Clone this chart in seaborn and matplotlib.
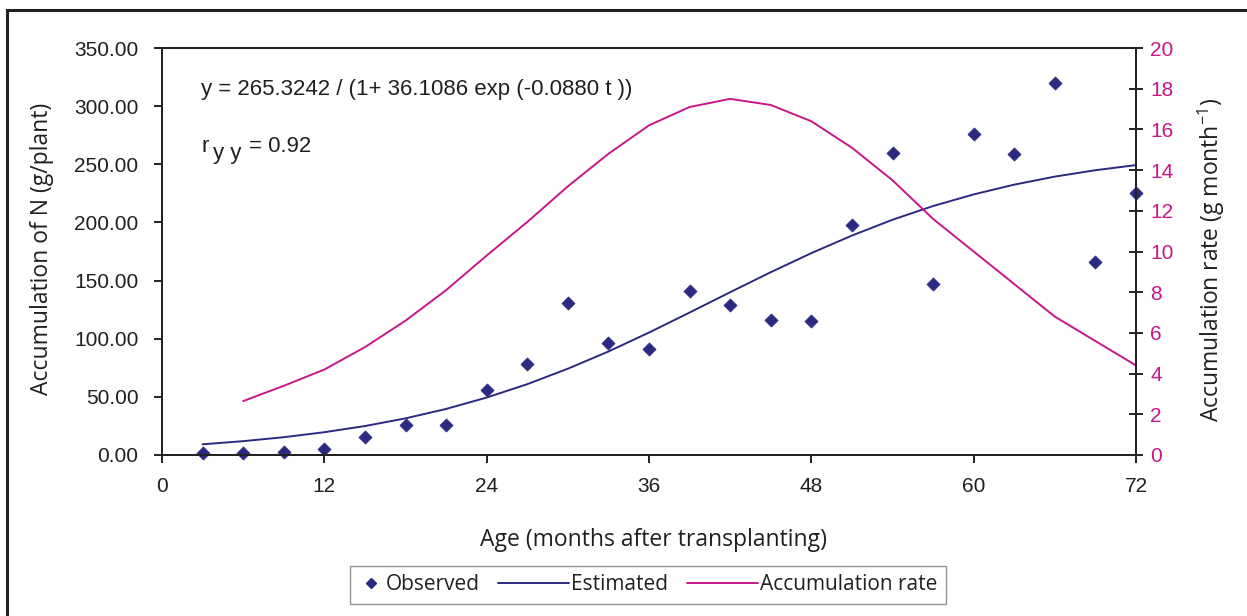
import matplotlib
matplotlib.use("Agg")
import matplotlib.pyplot as plt
import seaborn as sns
import pandas as pd
from matplotlib.lines import Line2D
from matplotlib.patches import Rectangle
from matplotlib.legend_handler import HandlerLine2D

# ---- data ----
months = [3, 6, 9, 12, 15, 18, 21, 24, 27, 30, 33, 36, 39, 42, 45, 48,
          51, 54, 57, 60, 63, 66, 69, 72]
observed = [1.5, 1.5, 3, 5, 15.5, 26, 26, 56, 78, 131, 96, 91, 141, 129,
            116, 115, 198, 260, 147, 276, 259, 320, 166, 225]
estimated = [9.2, 11.9, 15.3, 19.6, 24.9, 31.5, 39.6, 49.4, 60.9, 74.2,
             89.0, 105.3, 122.5, 140.0, 157.2, 173.6, 188.7, 202.3, 214.1,
             224.1, 232.5, 239.4, 244.9, 249.3]
rate_months = [6, 9, 12, 15, 18, 21, 24, 27, 30, 33, 36, 39, 42, 45, 48,
               51, 54, 57, 60, 63, 66, 69, 72]
rate = [2.65, 3.4, 4.2, 5.3, 6.6, 8.1, 9.8, 11.45, 13.2, 14.8, 16.2, 17.1,
        17.5, 17.2, 16.4, 15.1, 13.5, 11.6, 10.0, 8.4, 6.8, 5.6, 4.4]
x_ticks = [0, 12, 24, 36, 48, 60, 72]
left_ticks = [0, 50, 100, 150, 200, 250, 300, 350]
right_ticks = [0, 2, 4, 6, 8, 10, 12, 14, 16, 18, 20]

df_obs = pd.DataFrame({"t": months, "y": observed})
df_est = pd.DataFrame({"t": months, "y": estimated})
df_rate = pd.DataFrame({"t": rate_months, "r": rate})

NAVY = "#2B2A80"
PINK = "#C8168A"
TXT = "#231F20"

sns.set_theme(style="white")
plt.rcParams["font.family"] = ["Liberation Sans", "DejaVu Sans"]
plt.rcParams["text.color"] = TXT
plt.rcParams["axes.labelcolor"] = TXT
plt.rcParams["xtick.color"] = TXT
plt.rcParams["ytick.color"] = TXT
plt.rcParams["mathtext.fontset"] = "custom"
plt.rcParams["mathtext.rm"] = "Open Sans"
plt.rcParams["mathtext.it"] = "Open Sans"
plt.rcParams["mathtext.default"] = "regular"

W, H = 1247, 616
fig = plt.figure(figsize=(W / 100, H / 100), dpi=100)
ax = fig.add_axes([162 / W, 1 - 455 / H, (1136 - 162) / W, (455 - 48) / H])
ax2 = ax.twinx()

sns.lineplot(data=df_est, x="t", y="y", ax=ax, color=NAVY, lw=1.4)
sns.scatterplot(data=df_obs, x="t", y="y", ax=ax, color=NAVY, marker="D",
                s=45, edgecolor=NAVY, linewidth=0.5, clip_on=False, zorder=5)
sns.lineplot(data=df_rate, x="t", y="r", ax=ax2, color=PINK, lw=1.4)

ax.set_xlim(0, 72)
ax.set_ylim(0, 350)
ax2.set_ylim(0, 20)
ax.set_xticks(x_ticks)
ax.set_yticks(left_ticks)
ax.set_yticklabels([f"{v:.2f}" for v in left_ticks])
ax2.set_yticks(right_ticks)
ax2.set_yticklabels([str(v) for v in right_ticks])

for a in (ax, ax2):
    for s in a.spines.values():
        s.set_color("#222222")
        s.set_linewidth(1.4)
        s.set_visible(True)

ax.tick_params(axis="x", direction="out", length=5.5, width=1.4, color="#222222",
               labelsize=15, pad=10, bottom=True)
ax.tick_params(axis="y", direction="out", length=6, width=1.4, color="#222222",
               labelsize=15, pad=11, left=True)
ax2.tick_params(axis="y", direction="inout", length=10.5, width=1.4, color="#222222",
                labelsize=15, labelcolor=PINK, pad=5, right=True)

lab_font = ["Open Sans", "DejaVu Sans"]
axw, axh = 1136 - 162, 455 - 48
ax.set_xlabel("Age (months after transplanting)", fontsize=16.5, family=lab_font)
ax.set_ylabel("Accumulation of N (g/plant)", fontsize=16.5, family=lab_font)
ax2.set_ylabel("Accumulation rate (g month$^{-1}$)", fontsize=16.5, family=lab_font)
ax.xaxis.set_label_coords((653 - 162) / axw, (455 - 540) / axh)
ax.xaxis.label.set_va("center")
ax.yaxis.set_label_coords((42 - 162) / axw, (455 - 249) / axh)
ax.yaxis.label.set_va("center")
ax2.yaxis.set_label_coords((1211 - 162) / axw, (455 - 260) / axh)
ax2.yaxis.label.set_va("center")


def fpos(x, y):
    return x / W, 1 - y / H


fig.text(*fpos(201, 95), "y = 265.3242 / (1+ 36.1086 exp (-0.0880 t ))",
         fontsize=16, va="baseline", ha="left")
fig.text(*fpos(201, 152), "r", fontsize=16, va="baseline", ha="left")
fig.text(*fpos(213, 159), "y y", fontsize=16, va="baseline", ha="left")
fig.text(*fpos(249, 152), "= 0.92", fontsize=16, va="baseline", ha="left")


class MarkerRight(HandlerLine2D):
    def get_xdata(self, legend, xdescent, ydescent, width, height, fontsize):
        xdata, _ = super().get_xdata(legend, xdescent, ydescent, width, height, fontsize)
        return xdata, [-xdescent + width - 4]


class LongLine(HandlerLine2D):
    def create_artists(self, legend, orig_handle, xdescent, ydescent, width,
                       height, fontsize, trans):
        y = ((height - ydescent) / 2.0)
        line = Line2D([-xdescent + width - 51, -xdescent + width], [y, y])
        self.update_prop(line, orig_handle, legend)
        line.set_transform(trans)
        line.set_marker("")
        return [line]


h_obs = Line2D([], [], color=NAVY, marker="D", ls="none", markersize=5.5)
h_est = Line2D([], [], color=NAVY, lw=1.4)
h_rate = Line2D([], [], color=PINK, lw=1.4)
labels = ["Observed", "Estimated", "Accumulation rate"]
leg = fig.legend([h_obs, h_est, h_rate], labels, loc="center",
                 bbox_to_anchor=(648 / W, 1 - 585 / H),
                 ncol=3, frameon=True, fancybox=False,
                 prop={"family": lab_font, "size": 15},
                 handlelength=1.2, handletextpad=0.1, columnspacing=3.1,
                 borderpad=0.4,
                 handler_map={h_obs: MarkerRight(numpoints=1),
                              h_est: LongLine(), h_rate: LongLine()})
leg.get_frame().set_edgecolor("#7a7a7a")
leg.get_frame().set_linewidth(1.0)
for t in leg.get_texts():
    t.set_color(TXT)
if ax.get_legend():
    ax.get_legend().remove()

fig.patches.append(Rectangle((7 / W, -0.05), 1.2, 1 - 10 / H + 0.05,
                             transform=fig.transFigure, fill=False,
                             edgecolor="#222222", lw=2.2))

fig.savefig("out.png", dpi=100)
